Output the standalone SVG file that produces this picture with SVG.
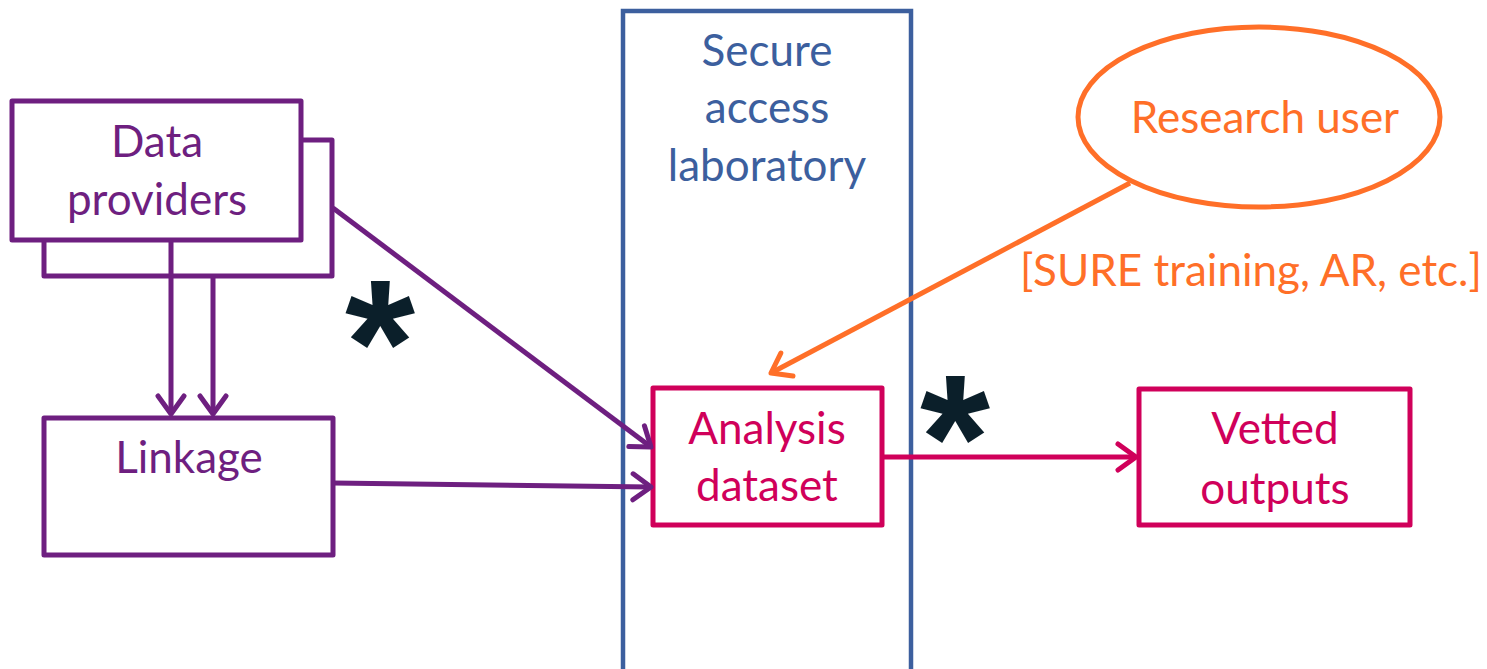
<svg xmlns="http://www.w3.org/2000/svg" width="1487" height="669" viewBox="0 0 1487 669">
<style>
text{font-family:Lato,"Liberation Sans",sans-serif;font-size:44px;text-anchor:middle}
.p{fill:none;stroke:#6E1F80;stroke-width:5;stroke-linejoin:round}
.r{fill:none;stroke:#D0005A;stroke-width:5;stroke-linejoin:round}
.b{fill:none;stroke:#3C5F9E;stroke-width:4.5}
.o{fill:none;stroke:#FF6F28;stroke-width:5}
.tp{fill:#6E1F80}.tr{fill:#D0005A}.tb{fill:#3C5F9E}.to{fill:#FF6F28}
.ast{fill:#0B1F2A;font-family:"Liberation Sans",sans-serif;font-weight:bold;font-size:180px}
</style>
<defs>
<marker id="ap" markerWidth="26" markerHeight="32" refX="22" refY="16" orient="auto" markerUnits="userSpaceOnUse" viewBox="0 0 26 32"><path d="M4,3 L22,16 L4,29" fill="none" stroke="#6E1F80" stroke-width="5" stroke-linecap="round" stroke-linejoin="round"/></marker>
<marker id="ar" markerWidth="26" markerHeight="32" refX="22" refY="16" orient="auto" markerUnits="userSpaceOnUse" viewBox="0 0 26 32"><path d="M4,3 L22,16 L4,29" fill="none" stroke="#D0005A" stroke-width="5" stroke-linecap="round" stroke-linejoin="round"/></marker>
<marker id="ao" markerWidth="26" markerHeight="32" refX="22" refY="16" orient="auto" markerUnits="userSpaceOnUse" viewBox="0 0 26 32"><path d="M4,3 L22,16 L4,29" fill="none" stroke="#FF6F28" stroke-width="5" stroke-linecap="round" stroke-linejoin="round"/></marker>
</defs>
<g id="lab">
<rect class="b" x="623" y="11" width="288" height="670"/>
<text class="tb" x="767" y="66">Secure</text>
<text class="tb" x="767" y="123">access</text>
<text class="tb" x="767" y="181">laboratory</text>
</g>
<g id="data-providers">
<rect class="p" x="44" y="140" width="288" height="136" style="fill:#fff"/>
<rect class="p" x="12" y="101" width="289" height="139" style="fill:#fff"/>
<text class="tp" x="157" y="157">Data</text>
<text class="tp" x="157" y="215">providers</text>
</g>
<g id="linkage">
<rect class="p" x="44" y="418" width="289" height="137"/>
<text class="tp" x="189" y="473">Linkage</text>
</g>
<g id="analysis-dataset">
<rect class="r" x="653" y="388" width="229" height="137"/>
<text class="tr" x="767" y="444">Analysis</text>
<text class="tr" x="767" y="501">dataset</text>
</g>
<g id="vetted-outputs">
<rect class="r" x="1139" y="389" width="271" height="136"/>
<text class="tr" x="1275" y="444">Vetted</text>
<text class="tr" x="1275" y="504">outputs</text>
</g>
<g id="research-user">
<ellipse class="o" cx="1259" cy="117" rx="181" ry="90"/>
<text class="to" x="1265" y="133">Research user</text>
</g>
<g id="connectors">
<line class="p" x1="171" y1="240" x2="171" y2="414" marker-end="url(#ap)"/>
<line class="p" x1="213" y1="276" x2="213" y2="414" marker-end="url(#ap)"/>
<line class="p" x1="333" y1="208" x2="651" y2="447" marker-end="url(#ap)"/>
<line class="p" x1="333" y1="483" x2="651" y2="487" marker-end="url(#ap)"/>
<line class="r" x1="882" y1="457" x2="1136" y2="457" marker-end="url(#ar)"/>
<line class="o" x1="1130" y1="183" x2="771" y2="373" marker-end="url(#ao)"/>
<text class="to" x="1251" y="286">[SURE training, AR, etc.]</text>
<text class="ast" x="380" y="405">*</text>
<text class="ast" x="955" y="500">*</text>
</g>
</svg>
